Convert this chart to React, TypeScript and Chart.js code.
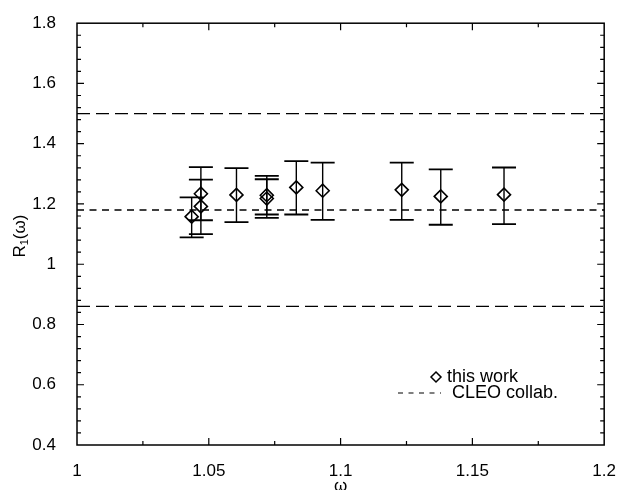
import { useEffect, useRef } from "react";
import { Chart, registerables } from "chart.js";

Chart.register(...registerables);

// Measured form-factor ratio R1(omega) with error bars
const omega = [1.0435, 1.047, 1.047, 1.0605, 1.072, 1.072, 1.0832, 1.0932, 1.1232, 1.138, 1.162];
const ratio = [1.158, 1.192, 1.234, 1.23, 1.229, 1.218, 1.255, 1.244, 1.247, 1.225, 1.231];
const ratioLow = [1.089, 1.1, 1.146, 1.14, 1.165, 1.154, 1.165, 1.147, 1.147, 1.131, 1.133];
const ratioHigh = [1.222, 1.281, 1.322, 1.319, 1.293, 1.282, 1.342, 1.337, 1.337, 1.315, 1.321];

// CLEO result: central value and its band
const cleoCentral = 1.18;
const cleoLow = 0.86;
const cleoHigh = 1.5;

// Axis ranges and tick steps
const omegaRange = [1, 1.2];
const ratioRange = [0.4, 1.8];
const omegaStep = 0.05;
const ratioStep = 0.2;
const omegaMinorStep = 0.025;
const ratioMinorStep = 0.04;

const FONT = "'Liberation Sans', Arial, Helvetica, sans-serif";

const fmt = (v: number) => String(Number(v.toFixed(3)));

const errorBars = {
  id: "errorBars",
  afterDatasetsDraw(chart: any) {
    const { ctx, scales } = chart;
    const x = scales.x;
    const y = scales.y;
    ctx.save();
    ctx.strokeStyle = "#000";
    omega.forEach((w, i) => {
      const px = x.getPixelForValue(w);
      const top = y.getPixelForValue(ratioHigh[i]);
      const bot = y.getPixelForValue(ratioLow[i]);
      ctx.lineWidth = 1.4;
      ctx.beginPath();
      ctx.moveTo(px, top);
      ctx.lineTo(px, bot);
      ctx.stroke();
      ctx.lineWidth = 1.8;
      ctx.beginPath();
      ctx.moveTo(px - 12, top);
      ctx.lineTo(px + 12, top);
      ctx.moveTo(px - 12, bot);
      ctx.lineTo(px + 12, bot);
      ctx.stroke();
    });
    ctx.restore();
  },
};

// Box frame with inward major/minor ticks on all four sides
const frame = {
  id: "frame",
  afterDraw(chart: any) {
    const { ctx, chartArea, scales } = chart;
    const { left, right, top, bottom } = chartArea;
    const x = scales.x;
    const y = scales.y;
    ctx.save();
    ctx.strokeStyle = "#000";
    ctx.lineWidth = 1.5;
    ctx.strokeRect(left, top, right - left, bottom - top);
    ctx.lineWidth = 1.2;
    ctx.beginPath();
    const nx = Math.round((omegaRange[1] - omegaRange[0]) / omegaMinorStep);
    for (let i = 1; i < nx; i++) {
      const v = omegaRange[0] + i * omegaMinorStep;
      const major = i % Math.round(omegaStep / omegaMinorStep) === 0;
      const len = major ? 7 : 4;
      const px = x.getPixelForValue(v);
      ctx.moveTo(px, bottom);
      ctx.lineTo(px, bottom - len);
      ctx.moveTo(px, top);
      ctx.lineTo(px, top + len);
    }
    const ny = Math.round((ratioRange[1] - ratioRange[0]) / ratioMinorStep);
    for (let i = 1; i < ny; i++) {
      const v = ratioRange[0] + i * ratioMinorStep;
      const major = i % Math.round(ratioStep / ratioMinorStep) === 0;
      const len = major ? 7 : 4;
      const py = y.getPixelForValue(v);
      ctx.moveTo(left, py);
      ctx.lineTo(left + len, py);
      ctx.moveTo(right, py);
      ctx.lineTo(right - len, py);
    }
    ctx.stroke();
    ctx.restore();
  },
};

// Axis titles and in-plot legend
const annotations = {
  id: "annotations",
  afterDraw(chart: any) {
    const { ctx, chartArea, scales } = chart;
    const x = scales.x;
    ctx.save();
    ctx.fillStyle = "#000";
    ctx.strokeStyle = "#000";

    // x-axis title
    ctx.font = `17px ${FONT}`;
    ctx.textAlign = "center";
    ctx.textBaseline = "alphabetic";
    ctx.fillText("ω", x.getPixelForValue(1.1), 491);

    // y-axis title R1(omega), rotated
    ctx.save();
    ctx.translate(25, (chartArea.top + chartArea.bottom) / 2 + 2);
    ctx.rotate(-Math.PI / 2);
    ctx.textAlign = "left";
    const big = `17px ${FONT}`;
    const small = `11px ${FONT}`;
    ctx.font = big;
    const wR = ctx.measureText("R").width;
    ctx.font = small;
    const w1 = ctx.measureText("1").width;
    ctx.font = big;
    const wP = ctx.measureText("(ω)").width;
    let cx = -(wR + w1 + wP) / 2;
    ctx.fillText("R", cx, 0);
    cx += wR;
    ctx.font = small;
    ctx.fillText("1", cx, 3);
    cx += w1;
    ctx.font = big;
    ctx.fillText("(ω)", cx, 0);
    ctx.restore();

    // legend
    const lx = 436;
    const ly1 = 377;
    const ly2 = 393;
    ctx.lineWidth = 1.5;
    ctx.beginPath();
    ctx.moveTo(lx, ly1 - 5);
    ctx.lineTo(lx + 5, ly1);
    ctx.lineTo(lx, ly1 + 5);
    ctx.lineTo(lx - 5, ly1);
    ctx.closePath();
    ctx.stroke();
    ctx.lineWidth = 1.2;
    ctx.setLineDash([5, 5.5]);
    ctx.beginPath();
    ctx.moveTo(398, ly2);
    ctx.lineTo(441, ly2);
    ctx.stroke();
    ctx.setLineDash([]);
    ctx.font = `18px ${FONT}`;
    ctx.textAlign = "left";
    ctx.textBaseline = "middle";
    ctx.fillText("this work", 447, ly1);
    ctx.fillText("CLEO collab.", 452, ly2);
    ctx.restore();
  },
};

const hLine = (v: number) => [
  { x: omegaRange[0], y: v },
  { x: omegaRange[1], y: v },
];

export default function App() {
  const ref = useRef<HTMLCanvasElement | null>(null);

  useEffect(() => {
    if (!ref.current) return;
    const chart = new Chart(ref.current, {
      type: "scatter",
      data: {
        datasets: [
          {
            label: "CLEO high",
            type: "line",
            data: hLine(cleoHigh),
            borderColor: "#000",
            borderWidth: 1.3,
            borderDash: [13, 6],
            pointRadius: 0,
            fill: false,
          },
          {
            label: "CLEO collab.",
            type: "line",
            data: hLine(cleoCentral),
            borderColor: "#000",
            borderWidth: 1.3,
            borderDash: [7, 5.5],
            pointRadius: 0,
            fill: false,
          },
          {
            label: "CLEO low",
            type: "line",
            data: hLine(cleoLow),
            borderColor: "#000",
            borderWidth: 1.3,
            borderDash: [13, 6],
            pointRadius: 0,
            fill: false,
          },
          {
            label: "this work",
            data: omega.map((w, i) => ({ x: w, y: ratio[i] })),
            pointStyle: "rectRot",
            pointRadius: 6.5,
            pointBorderWidth: 1.6,
            borderColor: "#000",
            backgroundColor: "rgba(0,0,0,0)",
          },
        ],
      },
      options: {
        responsive: false,
        animation: false,
        layout: { padding: { left: 0, right: 13, top: 15, bottom: 0 } },
        plugins: {
          legend: { display: false },
          tooltip: { enabled: false },
        },
        scales: {
          x: {
            type: "linear",
            min: omegaRange[0],
            max: omegaRange[1],
            grid: { display: false },
            border: { display: false },
            ticks: {
              stepSize: omegaStep,
              padding: 8,
              color: "#000",
              font: { size: 17, family: FONT },
              callback: (v: any) => fmt(Number(v)),
            },
            afterFit: (s: any) => {
              s.height = 45;
            },
          },
          y: {
            type: "linear",
            min: ratioRange[0],
            max: ratioRange[1],
            grid: { display: false },
            border: { display: false },
            ticks: {
              stepSize: ratioStep,
              padding: 13,
              color: "#000",
              font: { size: 17, family: FONT },
              callback: (v: any) => fmt(Number(v)),
            },
            afterFit: (s: any) => {
              s.width = 77;
            },
          },
        },
      },
      plugins: [errorBars, frame, annotations],
    } as any);
    return () => chart.destroy();
  }, []);

  return (
    <div
      style={{
        position: "fixed",
        left: 0,
        top: 0,
        width: 624,
        height: 490,
        background: "#fff",
      }}
    >
      <canvas ref={ref} width={624} height={490} />
    </div>
  );
}
